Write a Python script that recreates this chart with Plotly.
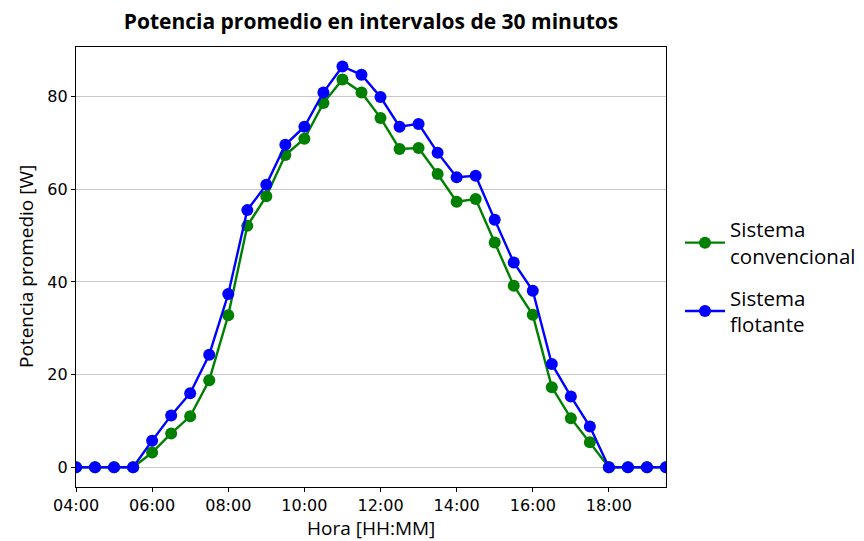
import plotly.graph_objects as go

horas = ["04:00", "04:30", "05:00", "05:30", "06:00", "06:30", "07:00", "07:30",
         "08:00", "08:30", "09:00", "09:30", "10:00", "10:30", "11:00", "11:30",
         "12:00", "12:30", "13:00", "13:30", "14:00", "14:30", "15:00", "15:30",
         "16:00", "16:30", "17:00", "17:30", "18:00", "18:30", "19:00", "19:30"]
convencional = [0, 0, 0, 0, 3.2, 7.3, 11.0, 18.8, 32.8, 52.1, 58.5, 67.4, 70.9, 78.6, 83.7, 80.9,
                75.4, 68.7, 68.9, 63.3, 57.3, 57.9, 48.5, 39.2, 32.9, 17.3, 10.6, 5.4, 0, 0, 0, 0]
flotante = [0, 0, 0, 0, 5.75, 11.2, 16.0, 24.3, 37.4, 55.5, 61.0, 69.6, 73.5, 80.9, 86.5, 84.7,
            79.9, 73.5, 74.1, 67.9, 62.6, 62.9, 53.4, 44.2, 38.1, 22.3, 15.3, 8.8, 0, 0, 0, 0]
nombres = ["Sistema<br>convencional", "Sistema<br>flotante"]
colores = ["green", "blue"]

x = ["2024-01-01 " + h for h in horas]

L, R, T, B = 76, 198, 47, 54
W, H = 864, 541
pw, ph = W - L - R, H - T - B

fig = go.Figure()
for i, (serie, nombre, color) in enumerate(zip([convencional, flotante], nombres, colores)):
    fig.add_trace(go.Scatter(
        x=x, y=serie, name=nombre, mode="lines+markers", legendgroup=f"g{i}",
        line=dict(color=color, width=2.4),
        marker=dict(color=color, size=12),
    ))

fig.update_layout(
    width=W, height=H,
    margin=dict(l=L, r=R, t=T, b=B, autoexpand=False),
    paper_bgcolor="white", plot_bgcolor="white",
    font=dict(family="Open Sans", color="black", size=15),
    title=dict(text="<b>Potencia promedio en intervalos de 30 minutos</b>",
               x=(L + L + pw) / 2 / W, xanchor="center", y=1 - 22 / H, yanchor="middle",
               font=dict(size=21)),
    legend=dict(xref="container", yref="container", x=680 / W, xanchor="left",
                y=1 - 277 / H, yanchor="middle", traceorder="grouped",
                font=dict(size=20.5), tracegroupgap=12, itemwidth=40),
    showlegend=True,
    annotations=[
        dict(text="Hora [HH:MM]", xref="paper", yref="paper",
             x=0.5, y=-(528 - (T + ph)) / ph, xanchor="center", yanchor="middle",
             showarrow=False, font=dict(size=19)),
        dict(text="Potencia promedio [W]", xref="paper", yref="paper",
             x=-(L - 26) / pw, y=0.5, xanchor="center", yanchor="middle", textangle=-90,
             showarrow=False, font=dict(size=19)),
    ],
)
fig.update_xaxes(
    range=["2024-01-01 04:00", "2024-01-01 19:30"],
    tickformat="%H:%M", dtick=2 * 3600 * 1000, tick0="2024-01-01 04:00",
    showgrid=False, showline=True, linecolor="black", linewidth=1.2, mirror=True,
    ticks="outside", ticklen=4, tickcolor="black", automargin=False,
    tickfont=dict(size=16, family="DejaVu Sans"),
)
fig.update_yaxes(
    range=[-4.25, 90.7], dtick=20, tick0=0,
    showgrid=True, gridcolor="#c8c8c8", gridwidth=1.2, zeroline=False,
    showline=True, linecolor="black", linewidth=1.2, mirror=True,
    ticks="outside", ticklen=4, tickcolor="black", automargin=False,
    tickfont=dict(size=16, family="DejaVu Sans"),
)

fig.write_html("out.html")
